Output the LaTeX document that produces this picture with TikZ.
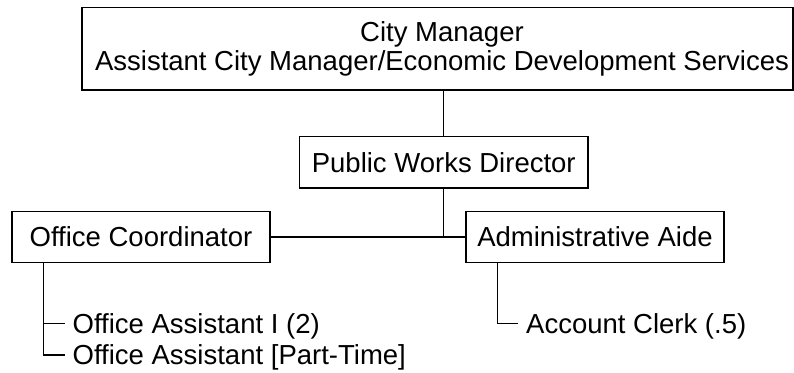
\documentclass[tikz,border=0pt]{standalone}
\usepackage{fontspec}
\setmainfont{Liberation Sans}
\begin{document}
\begin{tikzpicture}[x=1pt,y=-1pt,
  box/.style={draw,line width=1.8pt,rectangle,inner sep=0pt,align=center,
    font=\fontsize{27.5}{29}\selectfont},
  txt/.style={inner sep=0pt,align=center,font=\fontsize{27.5}{29}\selectfont},
  lbl/.style={inner sep=0pt,anchor=base west,font=\fontsize{27.5}{29}\selectfont},
  con/.style={line width=1.8pt}]
\useasboundingbox (0,0) rectangle (794,372);
\node[box,minimum width=711pt,minimum height=82.5pt] (top) at (437.25,48.75) {};
\node[txt] (toptext) at (442,48.75)
  {City Manager\\Assistant City Manager/Economic Development Services};
\node[box,minimum width=288.5pt,minimum height=51.5pt] (pwd) at (443.75,162.25) {Public Works Director};
\node[box,minimum width=258pt,minimum height=51pt] (oc) at (141,237) {Office Coordinator};
\node[box,minimum width=258pt,minimum height=51pt] (aa) at (595,237) {Administrative Aide};
\coordinate (j) at (443.5,237);
\node[lbl] (oa1) at (72.5,333) {Office Assistant I (2)};
\node[lbl] (oa2) at (72.5,364.5) {Office Assistant [Part-Time]};
\node[lbl] (ac) at (526,333) {Account Clerk (.5)};
\coordinate (ocb) at (43.5,237);
\coordinate (t1) at (65,323.5);
\coordinate (t2) at (65,355);
\coordinate (aab) at (497.5,237);
\coordinate (t3) at (518,323.5);
\draw[con] (j |- top.south) -- (j |- pwd.north);
\draw[con] (j |- pwd.south) -- (j);
\draw[con] (oc.east) -- (aa.west);
\draw[con] (ocb |- oc.south) -- (ocb |- t2) -- (t2);
\draw[con] (ocb |- t1) -- (t1);
\draw[con] (aab |- aa.south) -- (aab |- t3) -- (t3);
\end{tikzpicture}
\end{document}
